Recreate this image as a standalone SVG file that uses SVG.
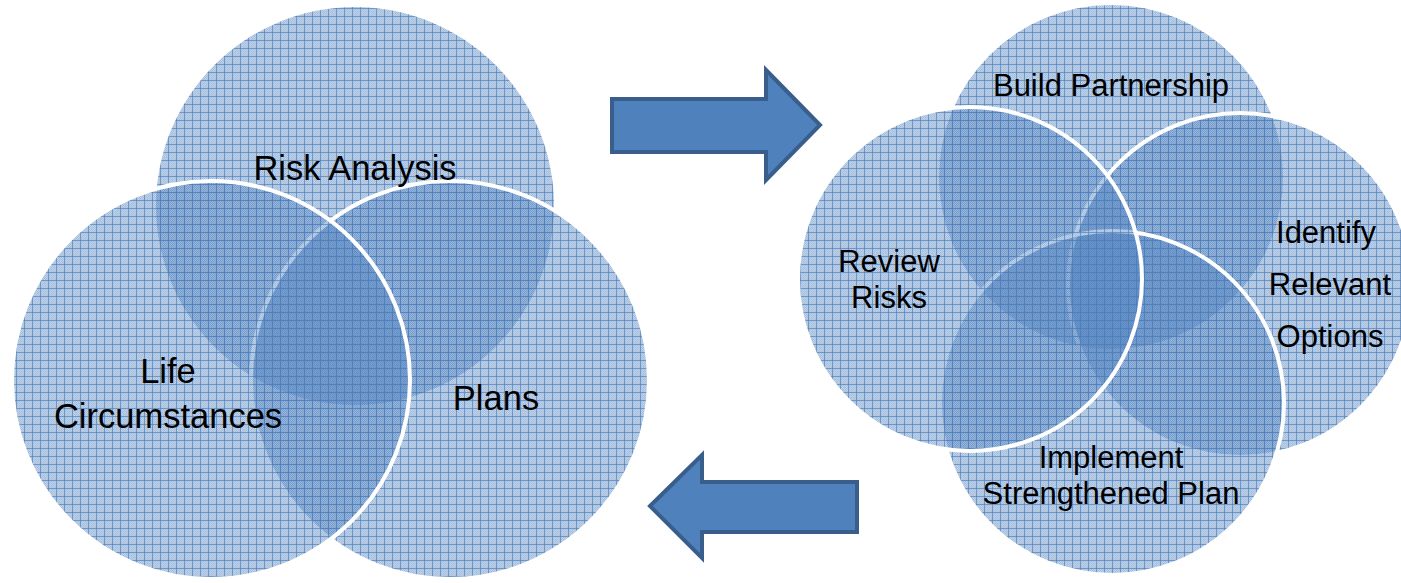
<svg xmlns="http://www.w3.org/2000/svg" width="1401" height="583" viewBox="0 0 1401 583">
<defs>
<pattern id="dots" width="2" height="2" patternUnits="userSpaceOnUse">
<rect x="0" y="0" width="1" height="1" fill="#4F81BD" fill-opacity="0.22"/>
<rect x="1" y="1" width="1" height="1" fill="#4F81BD" fill-opacity="0.22"/>
</pattern>
<pattern id="grid" width="8" height="8" patternUnits="userSpaceOnUse">
<rect width="8" height="8" fill="#4F81BD" fill-opacity="0.36"/>
<rect width="8" height="8" fill="url(#dots)"/>
<path d="M0,0.5H8M0.5,0V8" stroke="#4F81BD" stroke-opacity="0.7" stroke-width="1" fill="none"/>
</pattern>
</defs>
<style>
.c{fill:url(#grid);}
.w{stroke:#FFFFFF;stroke-width:4;}
.arrow{fill:#4F81BD;stroke:#3A5E8C;stroke-width:4;stroke-linejoin:miter;}
.t{font-family:"Liberation Sans",Arial,sans-serif;fill:#000000;text-anchor:middle;}
.big{font-size:34.5px;}
.med{font-size:31px;}
</style>
<g id="left-venn">
<g id="risk-analysis">
<circle class="c" cx="355" cy="206" r="199"/>
</g>
<g id="plans">
<circle class="c w" cx="450" cy="380" r="199"/>
</g>
<g id="life-circumstances">
<circle class="c w" cx="211" cy="380" r="199"/>
</g>
<text class="t big" x="355" y="180">Risk Analysis</text>
<text class="t big" x="168" y="383">Life</text>
<text class="t big" x="168" y="428">Circumstances</text>
<text class="t big" x="496" y="410">Plans</text>
</g>
<g id="right-venn">
<g id="build-partnership">
<circle class="c" cx="1111" cy="177" r="172"/>
</g>
<g id="identify-options">
<circle class="c w" cx="1240" cy="285" r="172"/>
</g>
<g id="implement-plan">
<circle class="c w" cx="1112" cy="403" r="172"/>
</g>
<g id="review-risks">
<circle class="c w" cx="970" cy="279" r="172"/>
</g>
<text class="t med" x="1111" y="96">Build Partnership</text>
<text class="t med" x="889" y="272">Review</text>
<text class="t med" x="889" y="308">Risks</text>
<text class="t med" x="1326" y="243">Identify</text>
<text class="t med" x="1330" y="295">Relevant</text>
<text class="t med" x="1330" y="347">Options</text>
<text class="t med" x="1111" y="468">Implement</text>
<text class="t med" x="1111" y="504">Strengthened Plan</text>
</g>
<g id="connectors">
<path class="arrow" d="M612,99 L766,99 L766,70 L820,125 L766,180 L766,152 L612,152 Z"/>
<path class="arrow" d="M857,482 L702,482 L702,455 L650,506 L702,558 L702,532 L857,532 Z"/>
</g>
</svg>
